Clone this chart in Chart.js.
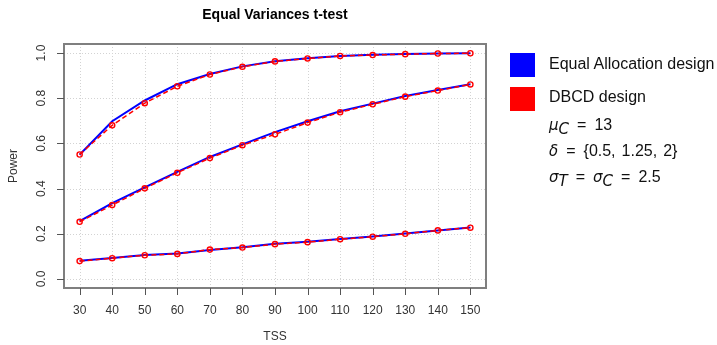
<!DOCTYPE html>
<html>
<head>
<meta charset="utf-8">
<script src="https://cdn.jsdelivr.net/npm/chart.js@4.4.0/dist/chart.umd.min.js"></script>
<style>
  html, body { margin: 0; padding: 0; background: #fff; }
  #wrap { position: relative; width: 717px; height: 345px; }
  #powerChart { position: absolute; left: 0; top: 0; }
  .key { position: absolute; font-family: "Liberation Sans", Arial, sans-serif; font-size: 16px; color: #111; white-space: nowrap; line-height: 1; }
  .swatch { position: absolute; width: 25px; height: 24px; }
  .key i { font-family: "DejaVu Sans", sans-serif; font-style: oblique; font-size: 15px; }
  .key sub { font-size: 11px; vertical-align: -4px; }
  .key .op { display: inline-block; padding: 0 8px; }
  .key .sep { display: inline-block; width: 6px; }
</style>
</head>
<body>
<div id="wrap">
  <canvas id="powerChart" width="717" height="345"></canvas>
  <div class="swatch" style="left:510px; top:53px; background:#0000ff;"></div>
  <div class="key" style="left:549px; top:56px;">Equal Allocation design</div>
  <div class="swatch" style="left:510px; top:87px; background:#ff0000;"></div>
  <div class="key" style="left:549px; top:89px;">DBCD design</div>
  <div class="key" style="left:549px; top:117px;"><i>μ</i><sub><i>C</i></sub><span class="op">=</span>13</div>
  <div class="key" style="left:549px; top:143px;"><i>δ</i><span class="op">=</span>{0.5,<span class="sep"></span>1.25,<span class="sep"></span>2}</div>
  <div class="key" style="left:549px; top:169px;"><i>σ</i><sub><i>T</i></sub><span class="op">=</span><i>σ</i><sub><i>C</i></sub><span class="op">=</span>2.5</div>
</div>
<script>
const tss = [30, 40, 50, 60, 70, 80, 90, 100, 110, 120, 130, 140, 150];

// power for delta = 2, 1.25 and 0.5
const equalHigh = [0.550, 0.698, 0.790, 0.862, 0.907, 0.941, 0.964, 0.977, 0.987, 0.992, 0.996, 0.998, 0.999];
const equalMid  = [0.256, 0.336, 0.405, 0.474, 0.540, 0.596, 0.650, 0.698, 0.742, 0.776, 0.810, 0.836, 0.862];
const equalLow  = [0.081, 0.093, 0.106, 0.113, 0.128, 0.140, 0.156, 0.165, 0.177, 0.188, 0.201, 0.214, 0.228];

const dbcdHigh = [0.551, 0.680, 0.778, 0.853, 0.905, 0.939, 0.963, 0.976, 0.987, 0.991, 0.995, 0.998, 0.999];
const dbcdMid  = [0.253, 0.327, 0.401, 0.470, 0.535, 0.592, 0.640, 0.692, 0.738, 0.773, 0.807, 0.834, 0.861];
const dbcdLow  = [0.079, 0.092, 0.105, 0.111, 0.130, 0.139, 0.154, 0.163, 0.176, 0.187, 0.200, 0.215, 0.227];

const xTicks = [30, 40, 50, 60, 70, 80, 90, 100, 110, 120, 130, 140, 150];
const yTicks = [0, 0.2, 0.4, 0.6, 0.8, 1.0];
const yTickLabels = ['0.0', '0.2', '0.4', '0.6', '0.8', '1.0'];

const toPoints = ys => ys.map((y, i) => ({ x: tss[i], y: y }));

const equalLine = ys => ({
    data: toPoints(ys),
    borderColor: '#0000ff',
    borderWidth: 2,
    pointRadius: 0,
    tension: 0,
    order: 2,
});

const dbcdLine = ys => ({
    data: toPoints(ys),
    borderColor: '#ff0000',
    borderWidth: 1.5,
    borderDash: [5, 3],
    pointRadius: 2.6,
    pointBorderWidth: 1.4,
    pointBorderColor: '#ff0000',
    pointBackgroundColor: 'rgba(0,0,0,0)',
    tension: 0,
    order: 1,
});

// R-like frame: dotted grid, box, outward ticks and rotated y labels
const baseAxes = {
    id: 'baseAxes',
    beforeDatasetsDraw(chart) {
        const { ctx, chartArea: a, scales: { x, y } } = chart;
        ctx.save();
        ctx.strokeStyle = '#d3d3d3';
        ctx.lineWidth = 1;
        ctx.setLineDash([1, 2]);
        ctx.beginPath();
        xTicks.forEach(v => {
            const px = Math.round(x.getPixelForValue(v)) + 0.5;
            ctx.moveTo(px, a.top);
            ctx.lineTo(px, a.bottom);
        });
        yTicks.forEach(v => {
            const py = Math.round(y.getPixelForValue(v)) + 0.5;
            ctx.moveTo(a.left, py);
            ctx.lineTo(a.right, py);
        });
        ctx.stroke();
        ctx.restore();
    },
    afterDraw(chart) {
        const { ctx, chartArea: a, scales: { x, y } } = chart;
        ctx.save();
        ctx.strokeStyle = '#7f7f7f';
        ctx.lineWidth = 2;
        ctx.strokeRect(a.left, a.top, a.right - a.left, a.bottom - a.top);

        ctx.lineWidth = 1;
        ctx.strokeStyle = '#555';
        ctx.beginPath();
        xTicks.forEach(v => {
            const px = Math.round(x.getPixelForValue(v)) + 0.5;
            ctx.moveTo(px, a.bottom);
            ctx.lineTo(px, a.bottom + 7);
        });
        yTicks.forEach(v => {
            const py = Math.round(y.getPixelForValue(v)) + 0.5;
            ctx.moveTo(a.left, py);
            ctx.lineTo(a.left - 7, py);
        });
        ctx.stroke();

        ctx.fillStyle = '#333';
        ctx.font = '12px "Liberation Sans", Arial, sans-serif';
        ctx.textAlign = 'center';
        ctx.textBaseline = 'middle';
        xTicks.forEach(v => ctx.fillText(String(v), x.getPixelForValue(v), 311));
        yTicks.forEach((v, i) => {
            ctx.save();
            ctx.translate(42, y.getPixelForValue(v));
            ctx.rotate(-Math.PI / 2);
            ctx.fillText(yTickLabels[i], 0, 0);
            ctx.restore();
        });

        ctx.fillText('TSS', (a.left + a.right) / 2, 337);
        ctx.save();
        ctx.translate(14, (a.top + a.bottom) / 2);
        ctx.rotate(-Math.PI / 2);
        ctx.fillText('Power', 0, 0);
        ctx.restore();

        ctx.fillStyle = '#000';
        ctx.font = 'bold 14px "Liberation Sans", Arial, sans-serif';
        ctx.fillText('Equal Variances t-test', (a.left + a.right) / 2, 15);
        ctx.restore();
    }
};

new Chart(document.getElementById('powerChart'), {
    type: 'line',
    data: {
        datasets: [
            equalLine(equalHigh), equalLine(equalMid), equalLine(equalLow),
            dbcdLine(dbcdHigh), dbcdLine(dbcdMid), dbcdLine(dbcdLow),
        ],
    },
    options: {
        responsive: false,
        animation: false,
        layout: { padding: { left: 64, right: 231, top: 44, bottom: 57 } },
        scales: {
            x: { type: 'linear', min: 25.2, max: 154.8, display: false },
            y: { type: 'linear', min: -0.04, max: 1.04, display: false },
        },
        plugins: {
            legend: { display: false },
            tooltip: { enabled: false },
        },
    },
    plugins: [baseAxes],
});
</script>
</body>
</html>
